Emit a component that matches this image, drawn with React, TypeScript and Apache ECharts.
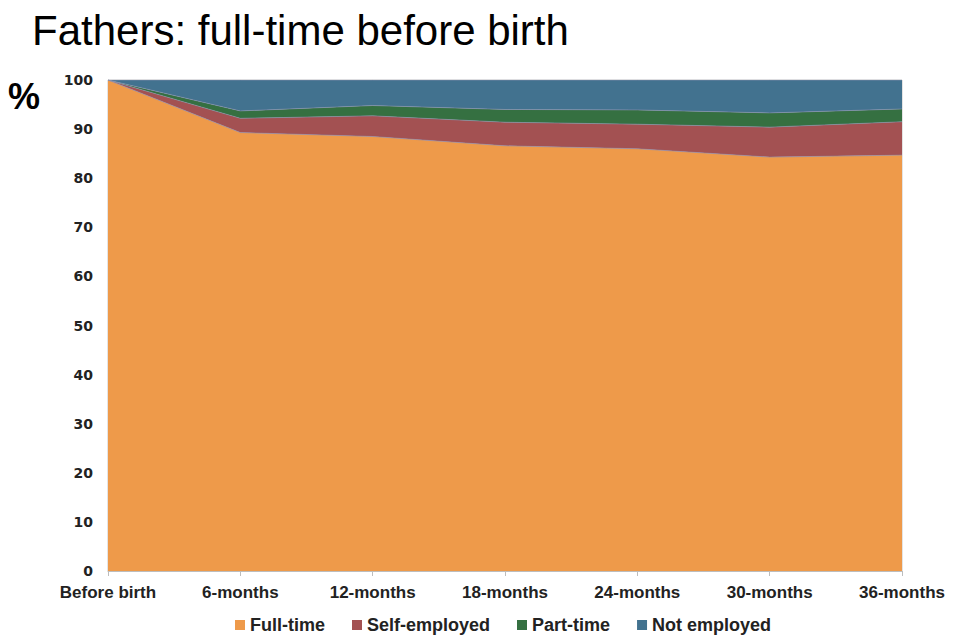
import React, { useEffect, useRef } from "react";
import * as echarts from "echarts";

const categories = ["Before birth", "6-months", "12-months", "18-months", "24-months", "30-months", "36-months"];
const fullTime = [100, 89.3, 88.5, 86.6, 86.0, 84.3, 84.7];
const selfEmployed = [0, 2.9, 4.2, 4.8, 5.0, 6.1, 6.8];
const partTime = [0, 1.5, 2.1, 2.6, 2.9, 2.9, 2.6];
const notEmployed = [0, 6.3, 5.2, 6.0, 6.1, 6.7, 5.9];
const yTicks = [0, 10, 20, 30, 40, 50, 60, 70, 80, 90, 100];

const seriesDefs = [
  { name: "Full-time", data: fullTime, color: "#EE9A4A" },
  { name: "Self-employed", data: selfEmployed, color: "#A35152" },
  { name: "Part-time", data: partTime, color: "#357041" },
  { name: "Not employed", data: notEmployed, color: "#42728F" },
];

export default function App() {
  const ref = useRef<HTMLDivElement>(null);
  useEffect(() => {
    document.body.style.margin = "0";
    const chart = echarts.init(ref.current!, null, { renderer: "svg" });
    chart.setOption({
      animation: false,
      backgroundColor: "#ffffff",
      title: [
        {
          text: "Fathers: full-time before birth",
          left: 27,
          top: 4,
          textStyle: { fontFamily: "Liberation Sans", fontSize: 42, fontWeight: "normal", color: "#000" },
        },
        {
          text: "%",
          left: 3,
          top: 73,
          textStyle: { fontFamily: "Liberation Sans", fontSize: 36, fontWeight: "bold", color: "#000" },
        },
      ],
      legend: {
        top: 611,
        left: 230,
        itemWidth: 10,
        itemHeight: 10,
        itemGap: 27,
        icon: "rect",
        textStyle: { fontFamily: "Liberation Sans", fontSize: 18, fontWeight: "bold", color: "#222" },
        data: seriesDefs.map((s) => s.name),
      },
      grid: { left: 108, right: 58, top: 80, bottom: 69, show: true, borderColor: "#c8c8c8", borderWidth: 1, backgroundColor: "transparent" },
      xAxis: {
        type: "category",
        boundaryGap: false,
        data: categories,
        axisLine: { lineStyle: { color: "#bdbdbd" } },
        axisTick: { show: true, alignWithLabel: true, lineStyle: { color: "#bdbdbd" } },
        axisLabel: {
          fontFamily: "Liberation Sans",
          fontSize: 17,
          fontWeight: "bold",
          color: "#222",
          margin: 13,
          interval: 0,
        },
        splitLine: { show: false },
      },
      yAxis: {
        type: "value",
        min: 0,
        max: 100,
        interval: 10,
        axisLine: { show: true, lineStyle: { color: "#bdbdbd" } },
        axisTick: { show: false },
        splitLine: { show: false },
        axisLabel: {
          fontFamily: "DejaVu Sans",
          fontSize: 14,
          fontWeight: "bold",
          color: "#222",
          margin: 15,
          formatter: (v: number) => (yTicks.includes(v) ? String(v) : ""),
        },
      },
      series: seriesDefs.map((s) => ({
        name: s.name,
        type: "line",
        stack: "total",
        data: s.data,
        symbol: "none",
        lineStyle: { width: 0.6, color: "#8a8fb0" },
        itemStyle: { color: s.color },
        areaStyle: { color: s.color, opacity: 1 },
      })),
    });
    return () => chart.dispose();
  }, []);
  return <div ref={ref} style={{ position: "absolute", left: 0, top: 0, width: 960, height: 640 }} />;
}
